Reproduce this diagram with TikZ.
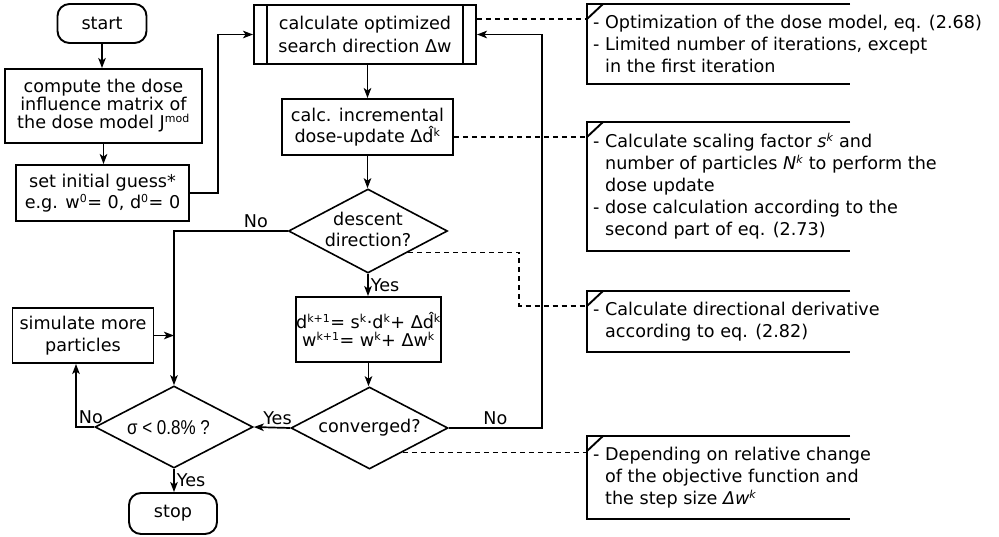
\documentclass[tikz,border=0pt]{standalone}
\usepackage{fontspec}
\setmainfont{DejaVu Sans}
\newfontfamily\sigmafont[FakeStretch=0.85]{Liberation Sans}
\newcommand{\sups}[1]{\textsuperscript{\fontsize{11}{11}\selectfont #1}}
\usetikzlibrary{shapes.geometric,arrows.meta,calc}

\begin{document}
\begin{tikzpicture}[x=1pt, y=-1pt, >={Stealth[length=10pt,width=7.5pt,inset=2.5pt]},
    every node/.style={font=\fontsize{17.6}{20}\selectfont},
    box/.style={draw, line width=1.9pt, inner sep=0pt, align=center},
    term/.style={box, rounded corners=12pt},
    dia/.style={draw, shape=diamond, line width=1.6pt, inner sep=0pt},
    line/.style={line width=1.7pt},
    lbl/.style={inner sep=2pt},
    note/.style={anchor=north west, align=left, inner xsep=6pt, inner ysep=11pt,
                 font=\fontsize{17.6}{22}\selectfont},
    notebox/.style={line width=1.9pt},
    hint/.style={line width=1.4pt, dash pattern=on 5pt off 4pt}]
    \useasboundingbox (0,0) rectangle (999,536);

    % Start and initialisation
    \node[term, minimum width=89pt, minimum height=39pt] (start) at (102,23.5) {start};
    \node[box, minimum width=197pt, minimum height=74pt, font=\fontsize{17.6}{18}\selectfont] (dosemat) at (103.5,106)
        {compute the dose\\influence matrix of\\the dose model J\sups{mod}};
    \node[box, minimum width=173pt, minimum height=56pt, font=\fontsize{17.6}{21}\selectfont] (guess) at (102.5,193)
        {set initial guess*\\e.g. w\sups{0}= 0, d\sups{0}= 0};

    % Main loop
    \node[box, minimum width=222pt, minimum height=59pt, font=\fontsize{17.6}{23}\selectfont,
          path picture={
            \draw[line width=1.6pt] ([xshift=13pt]path picture bounding box.north west) -- ([xshift=13pt]path picture bounding box.south west);
            \draw[line width=1.6pt] ([xshift=-13pt]path picture bounding box.north east) -- ([xshift=-13pt]path picture bounding box.south east);
          }] (searchdir) at (365,34.5) {calculate optimized\\search direction Δw};
    \node[box, minimum width=171pt, minimum height=56pt, font=\fontsize{17.6}{21}\selectfont] (doseinc) at (367.5,127)
        {calc. incremental\\dose-update Δ\^{d}\sups{k}};
    \node[dia, minimum width=159pt, minimum height=84pt] (descent) at (368,231) {};
    \node[align=center, font=\fontsize{17.6}{21}\selectfont] (descenttxt) at (368,229) {descent\\direction?};
    \node[box, minimum width=143pt, minimum height=65pt, font=\fontsize{17.6}{18.5}\selectfont] (update) at (368.5,329.5)
        {d\sups{k+1}= s\sups{k}·d\sups{k}+ Δ\^{d}\sups{k}\\w\sups{k+1}= w\sups{k}+ Δw\sups{k}};
    \node[dia, minimum width=157pt, minimum height=82pt] (conv) at (369.5,428) {};
    \node (convtxt) at (conv) {converged?};

    % Accuracy check and end
    \node[dia, minimum width=158pt, minimum height=82pt] (sigma) at (174,427) {};
    \node[font=\sigmafont\fontsize{20}{22}\selectfont] (sigmatxt) at (168.5,428) {σ < 0.8\% ?};
    \node[box, minimum width=141pt, minimum height=55pt, font=\fontsize{17.6}{22}\selectfont] (simulate) at (83,335.5)
        {simulate more\\particles};
    \node[term, minimum width=88pt, minimum height=41pt] (stop) at (173,513.5) {stop};

    % Arrows of the flow chart
    \draw[line, ->] (start.south) -- (start.south |- dosemat.north);
    \draw[line, ->] (dosemat.south) -- (dosemat.south |- guess.north);
    \draw[line, ->] (guess.east) -- ++(28,0) |- (searchdir.west);
    \draw[line, ->] (searchdir.south -| doseinc.north) -- (doseinc.north);
    \draw[line, ->] (doseinc.south) -- (doseinc.south |- descent.north);
    \draw[line, ->] (descent.south) -- node[lbl, right] {Yes} (descent.south |- update.north);
    \draw[line, ->] (descent.west) -- node[lbl, above, pos=0.28] {No} (descent.west -| sigma.north) -- (sigma.north);
    \draw[line, ->] (update.south) -- (update.south |- conv.north);
    \draw[line, ->] (conv.west) -- node[lbl, above, pos=0.35] {Yes} (sigma.east);
    \draw[line, ->] (conv.east) -- node[lbl, above] {No} ++(93,0) |- (searchdir.east);
    \draw[line, ->] (simulate.east) -- (simulate.east -| sigma.north);
    \draw[line, ->] (sigma.west) -| node[lbl, above right, pos=0.5] {No} ([xshift=-7pt]simulate.south);
    \draw[line, ->] (sigma.south) -- node[lbl, right] {Yes} (sigma.south |- stop.north);

    % Notes
    \node[note] (note1) at (587,4) {- Optimization of the dose model, eq. (2.68)\\- Limited number of iterations, except\\\phantom{- }in the first iteration};
    \node[note] (note2) at (587,122) {- Calculate scaling factor \textit{s\sups{k}} and\\\phantom{- }number of particles \textit{N\sups{k}} to perform the\\\phantom{- }dose update\\- dose calculation according to the\\\phantom{- }second part of eq. (2.73)};
    \node[note] (note3) at (587,291) {- Calculate directional derivative\\\phantom{- }according to eq. (2.82)};
    \node[note] (note4) at (587,436) {- Depending on relative change\\\phantom{- }of the objective function and\\\phantom{- }the step size \textit{Δw\sups{k}}};

    % Open frames of the notes
    \draw[notebox] ([xshift=263pt]note1.north west) -- (note1.north west) -- (note1.south west) -- ([xshift=263pt]note1.south west);
    \draw[notebox] ([yshift=-15pt]note1.north west) -- ([xshift=16pt]note1.north west);
    \draw[notebox] ([xshift=263pt]note2.north west) -- (note2.north west) -- (note2.south west) -- ([xshift=263pt]note2.south west);
    \draw[notebox] ([yshift=-15pt]note2.north west) -- ([xshift=16pt]note2.north west);
    \draw[notebox] ([xshift=263pt]note3.north west) -- (note3.north west) -- (note3.south west) -- ([xshift=263pt]note3.south west);
    \draw[notebox] ([yshift=-15pt]note3.north west) -- ([xshift=16pt]note3.north west);
    \draw[notebox] ([xshift=263pt]note4.north west) -- (note4.north west) -- (note4.south west) -- ([xshift=263pt]note4.south west);
    \draw[notebox] ([yshift=-15pt]note4.north west) -- ([xshift=16pt]note4.north west);

    % Dashed links to the notes
    \draw[hint] ([yshift=15.5pt]searchdir.east) -- ([yshift=-15pt]note1.north west);
    \draw[hint] ([yshift=-10pt]doseinc.east) -- ([yshift=-15pt]note2.north west);
    \coordinate (desctip) at ($(descent.east)!0.5!(descent.south)$);
    \draw[hint] (desctip) -- ++(111,0) |- ([yshift=-15pt]note3.north west);
    \coordinate (convtip) at ($(conv.east)!0.58!(conv.south)$);
    \draw[hint] (convtip) -- (convtip -| note4.west);
\end{tikzpicture}
\end{document}
